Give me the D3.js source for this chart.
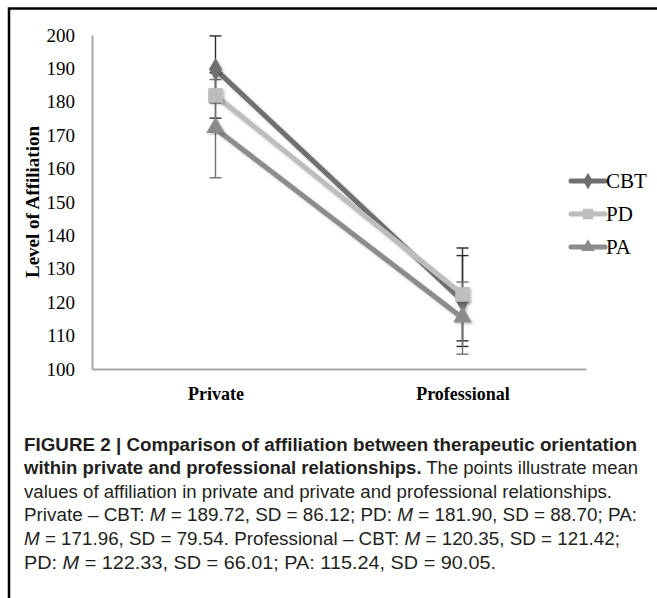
<!DOCTYPE html>
<html><head><meta charset="utf-8">
<script src="https://cdn.jsdelivr.net/npm/d3@7"></script>
<style>body{margin:0;background:#fff}svg{display:block}</style>
</head><body><svg id="c" width="657" height="598"></svg>
<script>
const categories = ["Private", "Professional"];
const seriesNames = ["CBT", "PD", "PA"];
const cbtMeans = [189.72, 120.35];
const pdMeans = [181.90, 122.33];
const paMeans = [171.96, 115.24];
const cbtErr = [10.0, 13.6];
const pdErr = [6.8, 13.9];
const paErr = [14.7, 10.8];
const yTicks = [100, 110, 120, 130, 140, 150, 160, 170, 180, 190, 200];
const yTitle = "Level of Affiliation";
const captionLines = [
  [["FIGURE 2 | Comparison of affiliation between therapeutic orientation", "b"]],
  [["within private and professional relationships.", "b"], [" The points illustrate mean", "n"]],
  [["values of affiliation in private and private and professional relationships.", "n"]],
  [["Private – CBT: ", "n"], ["M", "i"], [" = 189.72, SD = 86.12; PD: ", "n"], ["M", "i"], [" = 181.90, SD = 88.70; PA:", "n"]],
  [["M", "i"], [" = 171.96, SD = 79.54. Professional – CBT: ", "n"], ["M", "i"], [" = 120.35, SD = 121.42;", "n"]],
  [["PD: ", "n"], ["M", "i"], [" = 122.33, SD = 66.01; PA: 115.24, SD = 90.05.", "n"]]
];
const captionWidths = [613, 614, 588, 613, 596, 472];

const series = [
  {name: seriesNames[0], means: cbtMeans, err: cbtErr, color: "#6f6f6f", errColor: "#2a2a2a", shape: d3.symbolDiamond},
  {name: seriesNames[1], means: pdMeans, err: pdErr, color: "#bdbdbd", errColor: "#2a2a2a", shape: d3.symbolSquare},
  {name: seriesNames[2], means: paMeans, err: paErr, color: "#8c8c8c", errColor: "#707070", shape: d3.symbolTriangle}
];

const svg = d3.select("#c");
const serif = "'Liberation Serif','Times New Roman',serif";
const sans = "'Liberation Sans',Arial,Helvetica,sans-serif";

// frame
svg.append("path").attr("d", "M9,600 L9,8.5 L660,8.5").attr("fill", "none").attr("stroke", "#000").attr("stroke-width", 2.5);

const x = d3.scalePoint().domain(categories).range([92, 586]).padding(0.5);
const y = d3.scaleLinear().domain([100, 200]).range([369, 35]);

const yAxis = svg.append("g").attr("transform", "translate(92,0)")
  .call(d3.axisLeft(y).tickValues(yTicks).tickSize(0).tickPadding(17).tickFormat(d3.format("d")));
yAxis.select(".domain").attr("stroke", "#a6a6a6").attr("stroke-width", 2);
yAxis.selectAll("text").attr("font-family", serif).attr("font-size", 19).attr("fill", "#000");

const xAxis = svg.append("g").attr("transform", "translate(0,369)")
  .call(d3.axisBottom(x).tickSize(0).tickPadding(18));
xAxis.select(".domain").attr("stroke", "#a6a6a6").attr("stroke-width", 2);
xAxis.selectAll("text").attr("font-family", serif).attr("font-size", 18).attr("font-weight", "bold").attr("fill", "#000");

svg.append("text").attr("transform", `translate(39,${(y(100)+y(200))/2}) rotate(-90)`)
  .attr("text-anchor", "middle").attr("font-family", serif).attr("font-size", 19).attr("font-weight", "bold")
  .text(yTitle);

// error bars
const eb = svg.append("g");
series.forEach(s => {
  categories.forEach((c, i) => {
    const cx = x(c), hi = y(s.means[i] + s.err[i]), lo = y(s.means[i] - s.err[i]);
    eb.append("line").attr("x1", cx).attr("x2", cx).attr("y1", hi).attr("y2", lo).attr("stroke", s.errColor).attr("stroke-width", 1.4);
    [hi, lo].forEach(v => eb.append("line").attr("x1", cx - 6).attr("x2", cx + 6).attr("y1", v).attr("y2", v).attr("stroke", s.errColor).attr("stroke-width", 1.4));
  });
});

const defs = svg.append("defs");
defs.append("filter").attr("id", "sh").attr("x", "-20%").attr("y", "-20%").attr("width", "140%").attr("height", "140%")
  .append("feDropShadow").attr("dx", 1.5).attr("dy", 1.5).attr("stdDeviation", 1).attr("flood-color", "#000").attr("flood-opacity", 0.25);

const line = d3.line().x((d, i) => x(categories[i])).y(d => y(d));
series.forEach(s => {
  svg.append("path").datum(s.means).attr("d", line).attr("fill", "none").attr("stroke", s.color).attr("stroke-width", 5).attr("filter", "url(#sh)");
});
series.forEach(s => {
  const sym = d3.symbol().type(s.shape).size(s.shape === d3.symbolDiamond ? 150 : (s.shape === d3.symbolSquare ? 215 : 150));
  s.means.forEach((m, i) => {
    const dy = s.shape === d3.symbolTriangle ? -1 : 0;
    svg.append("path").attr("d", sym()).attr("transform", `translate(${x(categories[i])},${y(m) + dy})`).attr("fill", s.color).attr("filter", "url(#sh)");
  });
});

// legend
const legY = [181, 214, 247];
series.forEach((s, k) => {
  const g = svg.append("g").attr("transform", `translate(571,${legY[k]})`);
  g.append("line").attr("x1", 0).attr("x2", 34).attr("stroke", s.color).attr("stroke-width", 5).attr("stroke-linecap", "round");
  g.append("path").attr("d", d3.symbol().type(s.shape).size(s.shape === d3.symbolSquare ? 110 : 80)()).attr("transform", "translate(17,0)").attr("fill", s.color);
  g.append("text").attr("x", 35).attr("y", 7).attr("font-family", serif).attr("font-size", 21).attr("fill", "#000").text(s.name);
});

// caption
const capY0 = 450.5, capDy = 23.6;
captionLines.forEach((segs, k) => {
  const t = svg.append("text").attr("x", 24).attr("y", capY0 + k * capDy).attr("font-family", sans).attr("font-size", 17.5).attr("fill", "#231f20")
    .attr("textLength", captionWidths[k]).attr("lengthAdjust", "spacingAndGlyphs");
  segs.forEach(([txt, st]) => {
    const ts = t.append("tspan").text(txt);
    if (st === "b") ts.attr("font-weight", "bold");
    if (st === "i") ts.attr("font-style", "italic");
  });
});
</script></body></html>
